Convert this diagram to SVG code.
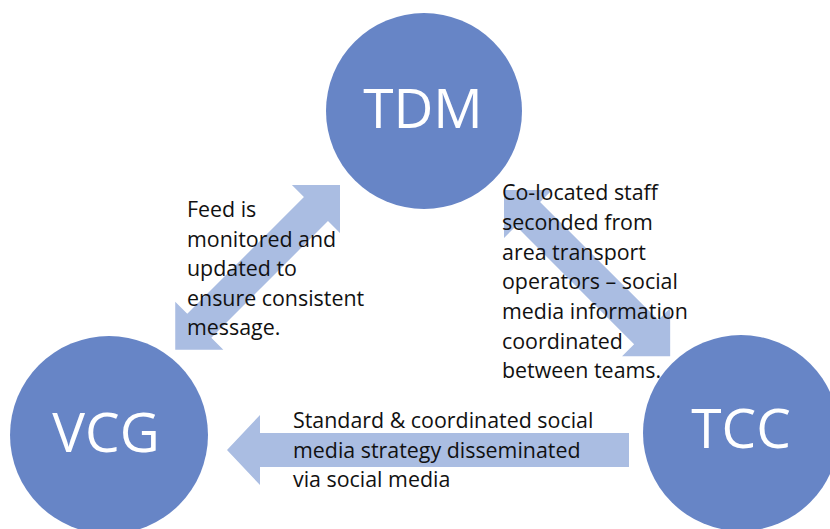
<svg xmlns="http://www.w3.org/2000/svg" width="830" height="529" viewBox="0 0 830 529">
<style>
.node{fill:#6785C6}
.lbl{fill:#ffffff;font-family:"Open Sans","DejaVu Sans",sans-serif;font-size:55px;text-anchor:middle}
.arrow{fill:#AABDE2}
.txt{fill:#111111;font-family:"Open Sans","DejaVu Sans",sans-serif;font-size:21.4px}
</style>
<rect width="830" height="529" fill="#ffffff"/>
<g id="TDM"><circle class="node" cx="424" cy="111" r="98"/><text class="lbl" x="423" y="128">TDM</text></g>
<g id="VCG"><circle class="node" cx="109" cy="435" r="99"/><text class="lbl" x="106" y="452">VCG</text></g>
<g id="TCC"><circle class="node" cx="741" cy="433" r="98"/><text class="lbl" x="741" y="448">TCC</text></g>
<g id="connectors">
<polygon class="arrow" transform="translate(340,185) rotate(135)" points="0,0 34,-34 34,-17 199,-17 199,-34 233,0 199,34 199,17 34,17 34,34"/>
<polygon class="arrow" transform="translate(504,190) rotate(45)" points="0,0 34,-34 34,-17 201,-17 201,-34 235,0 201,34 201,17 34,17 34,34"/>
<polygon class="arrow" points="227,450 260,415 260,433 629,433 629,467 260,467 260,485"/>
</g>
<g id="labels">
<text class="txt"><tspan x="187" y="217">Feed is</tspan><tspan x="187" y="246.5">monitored and</tspan><tspan x="187" y="276">updated to</tspan><tspan x="187" y="305.5">ensure consistent</tspan><tspan x="187" y="335">message.</tspan></text>
<text class="txt"><tspan x="502" y="200">Co-located staff</tspan><tspan x="502" y="230">seconded from</tspan><tspan x="502" y="259.5">area transport</tspan><tspan x="502" y="289">operators – social</tspan><tspan x="502" y="319">media information</tspan><tspan x="502" y="348.5">coordinated</tspan><tspan x="502" y="378">between teams.</tspan></text>
<text class="txt"><tspan x="293" y="428">Standard &amp; coordinated social</tspan><tspan x="293" y="458">media strategy disseminated</tspan><tspan x="293" y="487">via social media</tspan></text>
</g>
</svg>
